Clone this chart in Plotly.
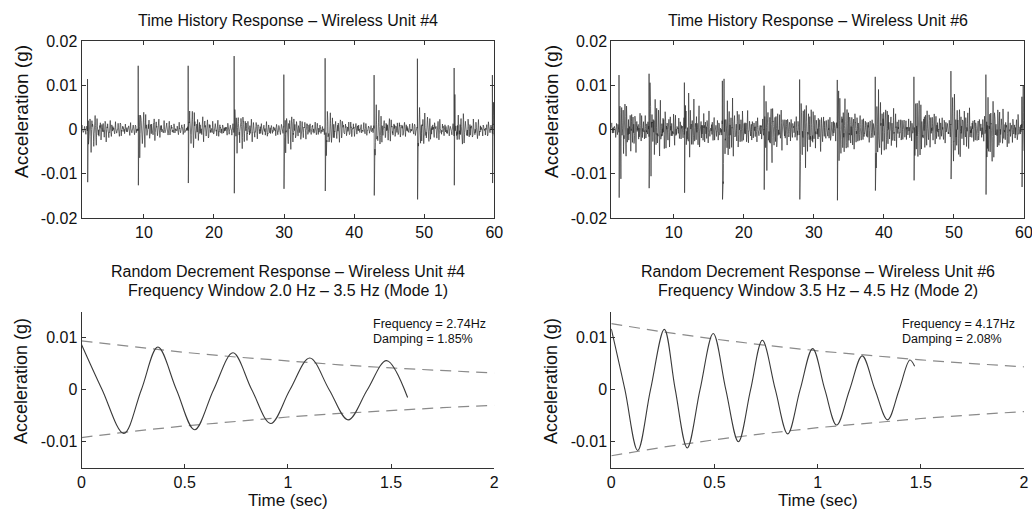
import numpy as np
import plotly.graph_objects as go

W, H = 1032, 510

# ---------------- data ----------------
# Time history, unit #4: impulse times (s) and extreme values (g)
u4_times = [1.96, 9.19, 16.32, 22.88, 29.97, 35.86, 42.85, 49.03, 54.27, 59.73]
u4_pos = [0.0114, 0.0144, 0.0144, 0.0166, 0.0124, 0.0161, 0.0123, 0.0160, 0.0139, 0.0123]
u4_neg = [-0.0119, -0.0126, -0.0121, -0.0144, -0.0134, -0.0139, -0.0149, -0.0158, -0.0126, -0.0121]
u4_ring = [0.0045, 0.0040, 0.0042, 0.0045, 0.0040, 0.0040, 0.0045, 0.0042, 0.0042, 0.0040]
u4_floor = 0.0011

# Time history, unit #6
u6_times = [2.20, 6.49, 11.53, 16.95, 22.90, 27.98, 33.35, 38.77, 44.29, 49.57, 54.56, 59.70]
u6_pos = [0.0123, 0.0126, 0.0106, 0.0110, 0.0099, 0.0113, 0.0112, 0.0119, 0.0119, 0.0132, 0.0124, 0.0074]
u6_neg = [-0.0154, -0.0124, -0.0132, -0.0158, -0.0136, -0.0158, -0.0160, -0.0138, -0.0115, -0.0112, -0.0147, -0.0130]
u6_ring = [0.0080, 0.0075, 0.0070, 0.0080, 0.0075, 0.0075, 0.0075, 0.0075, 0.0070, 0.0075, 0.0075, 0.0070]
u6_floor = 0.0018

# modal frequencies (Hz): identified modes plus higher structural modes
mode_freqs = [2.74, 3.31, 4.17, 5.62, 7.93, 10.7, 13.4]
u4_mode_weights = [0.30, 0.15, 0.18, 0.12, 0.10, 0.08, 0.07]
u6_mode_weights = [0.14, 0.12, 0.30, 0.14, 0.12, 0.10, 0.08]

# Random decrement signatures (extrema and zero crossings)
rd4_t = [0.0, 0.10, 0.205, 0.29, 0.37, 0.46, 0.548, 0.64, 0.734, 0.825, 0.917, 1.01,
         1.106, 1.20, 1.292, 1.385, 1.478, 1.58]
rd4_a = [0.0087, 0.0, -0.0084, 0.0, 0.0082, 0.0, -0.0077, 0.0, 0.0071, 0.0, -0.0065, 0.0,
         0.0061, 0.0, -0.0058, 0.0, 0.0056, -0.0015]
rd6_t = [0.0, 0.066, 0.128, 0.19, 0.257, 0.31, 0.368, 0.43, 0.494, 0.555, 0.616, 0.675,
         0.732, 0.795, 0.855, 0.915, 0.976, 1.035, 1.092, 1.155, 1.216, 1.278, 1.339,
         1.395, 1.447, 1.47]
rd6_a = [0.0117, 0.0, -0.0117, 0.0, 0.0116, 0.0, -0.0112, 0.0, 0.0108, 0.0, -0.0100, 0.0,
         0.0095, 0.0, -0.0085, 0.0, 0.0079, 0.0, -0.0068, 0.0, 0.0065, 0.0, -0.0058,
         0.0, 0.0057, 0.0045]

env_t = [0.0, 0.25, 0.5, 0.75, 1.0, 1.25, 1.5, 1.75, 2.0]
env4_up = [0.0094, 0.00824, 0.00718, 0.00628, 0.00548, 0.00479, 0.00418, 0.00366, 0.0032]
env4_lo = [-0.0092, -0.0080, -0.00696, -0.00605, -0.00525, -0.00457, -0.00397, -0.00345, -0.0030]
env6_up = [0.0127, 0.01112, 0.00974, 0.00853, 0.00747, 0.00654, 0.00573, 0.00502, 0.0044]
env6_lo = [-0.0127, -0.01106, -0.00963, -0.00839, -0.00731, -0.00636, -0.00554, -0.00483, -0.0042]

titles_top = ["Time History Response – Wireless Unit #4", "Time History Response – Wireless Unit #6"]
titles_bot1 = ["Random Decrement Response – Wireless Unit #4", "Random Decrement Response – Wireless Unit #6"]
titles_bot2 = ["Frequency Window 2.0 Hz – 3.5 Hz (Mode 1)", "Frequency Window 3.5 Hz – 4.5 Hz (Mode 2)"]
info_lines = [["Frequency = 2.74Hz", "Damping = 1.85%"], ["Frequency = 4.17Hz", "Damping = 2.08%"]]

top_xticks = [10, 20, 30, 40, 50, 60]
top_yticks = [-0.02, -0.01, 0, 0.01, 0.02]
top_yticktext = ["-0.02", "-0.01", "0", "0.01", "0.02"]
bot_xticks = [0, 0.5, 1, 1.5, 2]
bot_xticktext = ["0", "0.5", "1", "1.5", "2"]
bot_yticks = [-0.01, 0, 0.01]
bot_yticktext = ["-0.01", "0", "0.01"]


# ---------------- build time-history traces ----------------
def build_history(times, pos, neg, ring, floor, weights, tau=2.4, dt=0.005):
    t = np.arange(1.1, 60.0 + dt / 2, dt)
    env = np.full_like(t, floor)
    for ti, p, n, r in zip(times, pos, neg, ring):
        m = t >= ti
        d = t[m] - ti
        env[m] += r * np.exp(-d / tau) + 0.5 * max(p, -n) * np.exp(-d / 0.2)
    osc = np.zeros_like(t)
    for k, (f, w) in enumerate(zip(mode_freqs, weights)):
        osc += w * np.sin(2 * np.pi * f * t + 1.7 * k)
    y = env * osc / 0.75
    for ti, p, n in zip(times, pos, neg):
        i = int(round((ti - 1.1) / dt))
        if i < len(y):
            y[i] = p
        if i + 5 < len(y):
            y[i + 5] = n
    return t, y


t4, y4 = build_history(u4_times, u4_pos, u4_neg, u4_ring, u4_floor, u4_mode_weights)
t6, y6 = build_history(u6_times, u6_pos, u6_neg, u6_ring, u6_floor, u6_mode_weights)

# ---------------- figure ----------------
FONT = "Liberation Sans, Arial, Helvetica, sans-serif"
sig_col = "#2a2a2a"
rd_col = "#3a3a3a"
dash_col = "#8a8a8a"
axis_col = "#333333"

fig = go.Figure()
fig.add_trace(go.Scatter(x=t4, y=y4, mode="lines", line=dict(color=sig_col, width=0.65),
                         xaxis="x", yaxis="y", hoverinfo="skip"))
fig.add_trace(go.Scatter(x=t6, y=y6, mode="lines", line=dict(color=sig_col, width=0.65),
                         xaxis="x2", yaxis="y2", hoverinfo="skip"))

for xa, ya, rt, ra, eu, el in [("x3", "y3", rd4_t, rd4_a, env4_up, env4_lo),
                               ("x4", "y4", rd6_t, rd6_a, env6_up, env6_lo)]:
    fig.add_trace(go.Scatter(x=env_t, y=eu, mode="lines",
                             line=dict(color=dash_col, width=1.2, dash="11px,7px"),
                             xaxis=xa, yaxis=ya))
    fig.add_trace(go.Scatter(x=env_t, y=el, mode="lines",
                             line=dict(color=dash_col, width=1.2, dash="11px,7px"),
                             xaxis=xa, yaxis=ya))
    fig.add_trace(go.Scatter(x=rt, y=ra, mode="lines",
                             line=dict(color=rd_col, width=1.1, shape="spline", smoothing=1.0),
                             xaxis=xa, yaxis=ya))


def px_x(p):
    return p / W


def px_y(p):
    return 1 - p / H


left_dom = [px_x(81.5), px_x(494.3)]
right_dom = [px_x(611.3), px_x(1024)]
top_dom = [px_y(218), px_y(41)]
bot_dom = [px_y(467.7), px_y(311.7)]

tick_font = dict(family=FONT, size=16, color="#111")

common = dict(ticks="inside", ticklen=4, tickcolor=axis_col, showline=True, linecolor=axis_col,
              linewidth=1, showgrid=False, zeroline=False, tickfont=tick_font, automargin=False,
              ticklabeloverflow="allow")
top_x = dict(common, range=[1.1, 60], tickvals=top_xticks, mirror="ticks")
top_y = dict(common, range=[-0.02, 0.02], tickvals=top_yticks, ticktext=top_yticktext, mirror="ticks")
bot_x = dict(common, range=[0, 2], tickvals=bot_xticks, ticktext=bot_xticktext, mirror=False)
bot_y = dict(common, range=[-0.015, 0.015], tickvals=bot_yticks, ticktext=bot_yticktext, mirror=False)

fig.update_layout(
    template="none",
    width=W, height=H,
    margin=dict(l=0, r=0, t=0, b=0, pad=0),
    paper_bgcolor="white", plot_bgcolor="white",
    showlegend=False,
    font=dict(family=FONT, color="#111"),
    xaxis=dict(top_x, domain=left_dom, anchor="y"),
    yaxis=dict(top_y, domain=top_dom, anchor="x"),
    xaxis2=dict(top_x, domain=right_dom, anchor="y2"),
    yaxis2=dict(top_y, domain=top_dom, anchor="x2"),
    xaxis3=dict(bot_x, domain=left_dom, anchor="y3"),
    yaxis3=dict(bot_y, domain=bot_dom, anchor="x3"),
    xaxis4=dict(bot_x, domain=right_dom, anchor="y4"),
    yaxis4=dict(bot_y, domain=bot_dom, anchor="x4"),
)

ann = []
centers = [(81.5 + 494.3) / 2, (611.3 + 1024) / 2]
ytitle_x = [21, 551]
info_x = [370.5, 899.5]
for k in range(2):
    cx = centers[k]
    ann.append(dict(text=titles_top[k], x=px_x(cx), y=px_y(21), font=dict(size=16)))
    ann.append(dict(text=titles_bot1[k], x=px_x(cx), y=px_y(271), font=dict(size=16)))
    ann.append(dict(text=titles_bot2[k], x=px_x(cx), y=px_y(290), font=dict(size=16)))
    ann.append(dict(text="Acceleration (g)", x=px_x(ytitle_x[k]), y=px_y(112), textangle=-90,
                    font=dict(size=19)))
    ann.append(dict(text="Acceleration (g)", x=px_x(ytitle_x[k]), y=px_y(381), textangle=-90,
                    font=dict(size=18)))
    ann.append(dict(text="Time (sec)", x=px_x(cx), y=px_y(500), font=dict(size=17)))
    ann.append(dict(text=info_lines[k][0], x=px_x(info_x[k]), y=px_y(324), xanchor="left",
                    font=dict(size=12.5)))
    ann.append(dict(text=info_lines[k][1], x=px_x(info_x[k]), y=px_y(339), xanchor="left",
                    font=dict(size=12.5)))

for a in ann:
    a.setdefault("xanchor", "center")
    a.update(xref="paper", yref="paper", yanchor="middle", showarrow=False)
    a["font"] = dict(family=FONT, color="#111", **a["font"])
fig.update_layout(annotations=ann)

fig.write_html("out.html", config={"displayModeBar": False},
               post_script="document.body.style.margin='0';document.body.style.overflow='hidden';")
